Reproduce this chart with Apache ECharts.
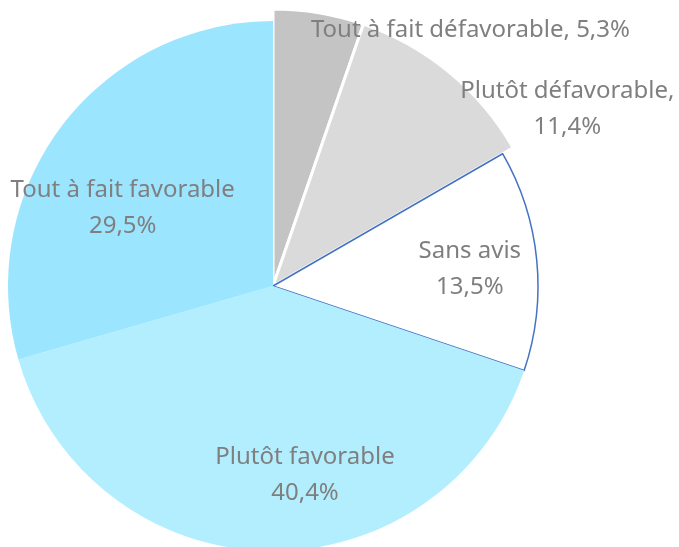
<!DOCTYPE html>
<html>
<head>
<meta charset="utf-8">
<script src="https://cdn.jsdelivr.net/npm/echarts@6/dist/echarts.min.js"></script>
<style>
  html, body { margin: 0; padding: 0; background: #fff; }
  #chart { width: 679px; height: 547px; }
</style>
</head>
<body>
<div id="chart"></div>
<script>
const categories = ['Tout à fait défavorable', 'Plutôt défavorable', 'Sans avis', 'Plutôt favorable', 'Tout à fait favorable'];
const values = [5.3, 11.4, 13.5, 40.4, 29.5];
const colors = ['#c4c4c4', '#dadada', '#ffffff', '#b3eeff', '#9ce5ff'];
// the two grey slices are drawn a bit bigger than the others
const raised = [true, true, false, false, false];
// where each label sits, relative to the slice's inside point
const labelOffsets = [[175, -122], [208, -72], [62, -3], [35, 54], [-42, 4]];

const fmt = v => v.toFixed(1).replace('.', ',') + '%';

const chart = echarts.init(document.getElementById('chart'));

const bigSlices = categories.map((name, i) => ({
    name: name,
    value: values[i],
    itemStyle: raised[i]
        ? { color: colors[i], borderColor: '#fff', borderWidth: 3 }
        : { color: 'transparent', borderWidth: 0 }
}));

const mainSlices = categories.map((name, i) => {
    let style = { color: colors[i], borderWidth: 0 };
    if (raised[i]) style = { color: 'transparent', borderWidth: 0 };
    if (name === 'Sans avis') style = { color: colors[i], borderColor: '#4472c4', borderWidth: 1.5 };
    return {
        name: name,
        value: values[i],
        itemStyle: style,
        label: { offset: labelOffsets[i] }
    };
});

const option = {
    backgroundColor: '#fff',
    animation: false,
    series: [
        {
            type: 'pie',
            center: [273, 286],
            radius: 277,
            startAngle: 90,
            clockwise: true,
            silent: true,
            label: { show: false },
            labelLine: { show: false },
            data: bigSlices
        },
        {
            type: 'pie',
            center: [273, 286],
            radius: 265,
            startAngle: 90,
            clockwise: true,
            silent: true,
            labelLine: { show: false },
            label: {
                show: true,
                position: 'inside',
                color: '#7f7f7f',
                fontFamily: 'Noto Sans',
                fontSize: 24,
                lineHeight: 36,
                align: 'center',
                formatter: p => p.name === 'Tout à fait défavorable'
                    ? p.name + ', ' + fmt(p.value)
                    : (p.name === 'Plutôt défavorable' ? p.name + ',' : p.name) + '\n' + fmt(p.value)
            },
            data: mainSlices
        }
    ]
};

chart.setOption(option);
</script>
</body>
</html>
